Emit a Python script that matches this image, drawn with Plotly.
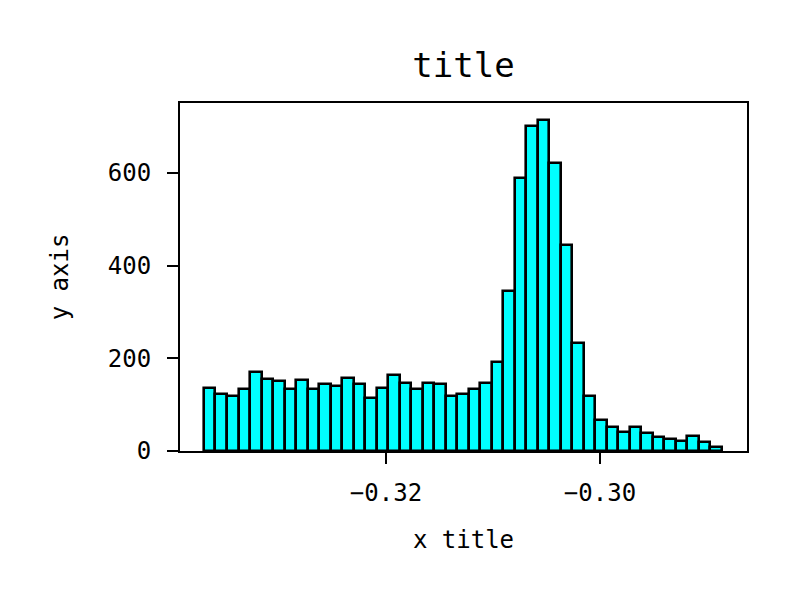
import plotly.graph_objects as go

bin_start = -0.33701
bin_width = 0.0010758
counts = [137, 124, 119, 134, 170, 155, 150, 134, 154, 133,
          145, 140, 158, 144, 115, 137, 165, 147, 133, 147,
          144, 119, 124, 133, 146, 191, 346, 590, 701, 714,
          622, 445, 234, 119, 66, 52, 42, 52, 38, 31,
          25, 22, 32, 20, 9]
x_ticks = [-0.32, -0.30]
x_tick_labels = ["\u22120.32", "\u22120.30"]
y_ticks = [0, 200, 400, 600]

centers = [bin_start + bin_width * (i + 0.5) for i in range(len(counts))]

font = "DejaVu Sans Mono"
fig = go.Figure(go.Bar(
    x=centers, y=counts, width=bin_width,
    marker=dict(color="#00ffff", line=dict(color="black", width=2.6)),
))
fig.update_layout(
    width=799, height=600,
    margin=dict(l=172, r=60, t=95, b=157),
    paper_bgcolor="white", plot_bgcolor="white",
    bargap=0, showlegend=False,
    font=dict(family=font, color="black", size=24),
    title=dict(text="title", x=0.5, xref="paper", xanchor="center",
               y=0.905, yanchor="middle",
               font=dict(family=font, size=34, color="black")),
)
fig.update_xaxes(
    range=[-0.33925, -0.28626], tickvals=x_ticks, ticktext=x_tick_labels,
    showgrid=False, zeroline=False, showline=True, linecolor="black", linewidth=2,
    mirror=True, ticks="outside", ticklen=11, tickwidth=2, tickcolor="black",
    ticklabelstandoff=8,
    tickfont=dict(family=font, size=24),
    title=dict(text="x title", font=dict(family=font, size=24), standoff=25),
)
fig.update_yaxes(
    range=[0, 751], tickvals=y_ticks,
    showgrid=False, zeroline=False, showline=True, linecolor="black", linewidth=2,
    mirror=True, ticks="outside", ticklen=11, tickwidth=2, tickcolor="black",
    ticklabelstandoff=11,
    tickfont=dict(family=font, size=24),
    title=dict(text="y axis", font=dict(family=font, size=24), standoff=32),
)
fig.write_html("out.html")
